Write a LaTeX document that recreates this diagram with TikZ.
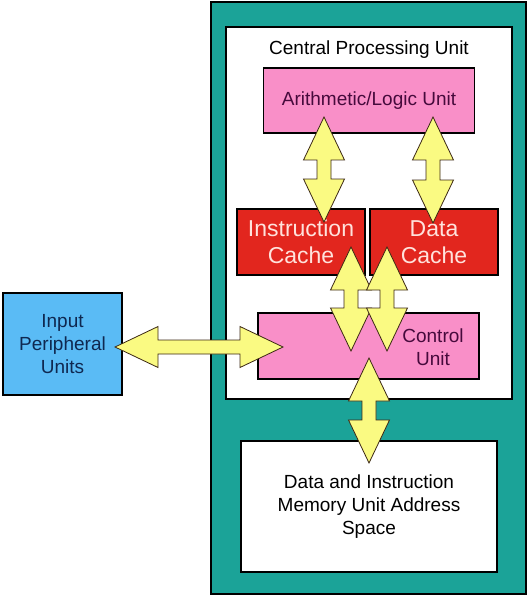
\documentclass[tikz,border=0pt]{standalone}
\usepackage{fontspec}
\setmainfont{Liberation Sans}
\usepackage{tikz}
\usetikzlibrary{calc,positioning}
\usepackage{xcolor}
\definecolor{cputeal}{RGB}{27,163,152}
\definecolor{alupink}{RGB}{249,143,200}
\definecolor{cachered}{RGB}{226,38,30}
\definecolor{cachetext}{RGB}{255,226,220}
\definecolor{busyellow}{RGB}{250,250,130}
\definecolor{inputblue}{RGB}{90,187,245}
\definecolor{unittext}{RGB}{70,10,60}
\definecolor{inputtext}{RGB}{15,40,80}
\definecolor{busline}{RGB}{60,40,20}
\tikzstyle{unitbox} = [rectangle, draw=black, line width=1.2pt, outer sep=0pt, inner sep=0pt, align=center, font=\fontsize{19}{23}\selectfont]
\tikzstyle{cachebox} = [unitbox, fill=cachered, text=cachetext, minimum width=128pt, minimum height=66pt, font=\fontsize{23}{27}\selectfont]
\tikzstyle{fatarrow} = [draw=busline, line width=0.8pt, fill=busyellow, line join=miter]
% fat two-headed bus arrow between two named points
\newcommand{\dblarrow}[2]{%
  \coordinate (fa1) at ($(#1)!43pt!(#2)$);
  \coordinate (fa2) at ($(#2)!43pt!(#1)$);
  \draw[fatarrow] (#1) -- ($(fa1)!20.5pt!90:(#2)$) -- ($(fa1)!7pt!90:(#2)$)
    -- ($(fa2)!7pt!-90:(#1)$) -- ($(fa2)!20.5pt!-90:(#1)$) -- (#2)
    -- ($(fa2)!20.5pt!90:(#1)$) -- ($(fa2)!7pt!90:(#1)$)
    -- ($(fa1)!7pt!-90:(#2)$) -- ($(fa1)!20.5pt!-90:(#2)$) -- cycle;}

\begin{document}
\begin{tikzpicture}[x=1pt, y=-1pt]
    \useasboundingbox (0,0) rectangle (529,596);
    \node[unitbox, fill=cputeal, minimum width=315pt, minimum height=592pt] (machine) at (368.5,298) {};
    \node[unitbox, fill=white, minimum width=286pt, minimum height=372pt] (cpu) at (369,213) {};
    \node[font=\fontsize{19}{23}\selectfont, inner sep=0pt, below=14pt of cpu.north] (cputitle) {Central Processing Unit};

    \node[unitbox, fill=alupink, text=unittext, minimum width=211pt, minimum height=65pt, below=41pt of cpu.north] (alu) {Arithmetic/Logic Unit};
    \node[cachebox] (icache) at (301,242) {Instruction\\Cache};
    \node[cachebox, right=5pt of icache] (dcache) {Data\\Cache};
    \node[unitbox, fill=alupink, minimum width=221pt, minimum height=66pt] (control) at (368.5,346) {};
    \node[font=\fontsize{19}{23}\selectfont, text=unittext, align=center, inner sep=0pt] (controltext) at (433,347) {Control\\Unit};

    \node[unitbox, fill=white, minimum width=256pt, minimum height=131pt] (memory) at (369,506.5) {Data and Instruction\\Memory Unit Address\\Space};
    \node[unitbox, fill=inputblue, text=inputtext, minimum width=119pt, minimum height=102pt] (input) at (62.5,344) {Input\\Peripheral\\Units};

    % bus end points
    \coordinate (alu-i) at (324,117);
    \coordinate (icache-a) at (324,222);
    \coordinate (alu-d) at (433,117);
    \coordinate (dcache-a) at (433,223);
    \coordinate (icache-c) at (351,247);
    \coordinate (control-i) at (351,351);
    \coordinate (dcache-c) at (387,247);
    \coordinate (control-d) at (387,351);
    \coordinate (input-c) at (115,347);
    \coordinate (control-in) at (283,347);
    \coordinate (control-m) at (369,358);
    \coordinate (memory-c) at (369,463);

    \dblarrow{alu-i}{icache-a}
    \dblarrow{alu-d}{dcache-a}
    \dblarrow{icache-c}{control-i}
    \dblarrow{dcache-c}{control-d}
    \dblarrow{input-c}{control-in}
    \dblarrow{control-m}{memory-c}
\end{tikzpicture}
\end{document}
